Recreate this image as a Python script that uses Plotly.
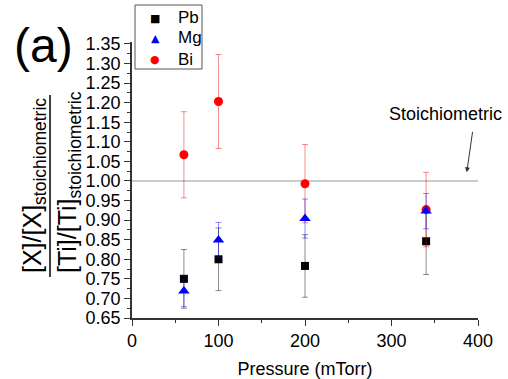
import plotly.graph_objects as go

pressure = [60, 100, 200, 340]
pb = [0.750, 0.800, 0.783, 0.846]
pb_err = [0.075, 0.080, 0.080, 0.085]
mg = [0.719, 0.849, 0.904, 0.923]
mg_err = [0.040, 0.045, 0.050, 0.045]
bi = [1.067, 1.203, 0.993, 0.927]
bi_err = [0.110, 0.120, 0.100, 0.095]

series_names = ["Pb", "Mg", "Bi"]
series_colors = ["black", "blue", "red"]
series_glyphs = ["■", "▲", "●"]

FONT = "Liberation Sans, Arial, sans-serif"

fig = go.Figure()
fig.add_trace(go.Scatter(
    x=pressure, y=pb, mode="markers", name="Pb",
    marker=dict(symbol="square", size=8, color="black"),
    error_y=dict(type="data", array=pb_err, color="rgba(0,0,0,0.45)", thickness=1, width=3)))
fig.add_trace(go.Scatter(
    x=pressure, y=bi, mode="markers", name="Bi",
    marker=dict(symbol="circle", size=9, color="red"),
    error_y=dict(type="data", array=bi_err, color="rgba(230,0,0,0.45)", thickness=1, width=3)))
fig.add_trace(go.Scatter(
    x=pressure, y=mg, mode="markers", name="Mg",
    marker=dict(symbol="triangle-up", size=10, color="blue"),
    error_y=dict(type="data", array=mg_err, color="rgba(0,0,255,0.45)", thickness=1, width=3)))

fig.add_shape(type="line", xref="x", yref="y", x0=0, x1=400, y0=1.0, y1=1.0,
              line=dict(color="#999999", width=1), layer="below")

L, R, T, B, W, H = 132, 30, 42, 61, 508, 379
pw, ph = W - L - R, H - T - B
px = lambda x: (x - L) / pw
py = lambda y: (H - B - y) / ph

# Legend (drawn manually to match compact spacing)
fig.add_shape(type="rect", xref="paper", yref="paper", x0=px(135), x1=px(202), y0=py(5), y1=py(69),
              line=dict(color="#555555", width=1), fillcolor="rgba(0,0,0,0)")
for i, (nm, col, gl) in enumerate(zip(series_names, series_colors, series_glyphs)):
    yy = 17 + 21 * i
    fig.add_annotation(xref="paper", yref="paper", x=px(155), y=py(yy + 1), text=gl, showarrow=False,
                       xanchor="center", yanchor="middle", font=dict(family="DejaVu Sans", size=11, color=col))
    fig.add_annotation(xref="paper", yref="paper", x=px(176), y=py(yy), text=nm, showarrow=False,
                       xanchor="left", yanchor="middle", font=dict(family=FONT, size=17, color="black"))

fig.add_annotation(xref="paper", yref="paper", x=px(34), y=py(185), textangle=-90,
                   text="[X]/[X]<sub>stoichiometric</sub>", showarrow=False,
                   xanchor="center", yanchor="middle", font=dict(family=FONT, size=25, color="black"))
fig.add_annotation(xref="paper", yref="paper", x=px(69), y=py(182), textangle=-90,
                   text="[Ti]/[Ti]<sub>stoichiometric</sub>", showarrow=False,
                   xanchor="center", yanchor="middle", font=dict(family=FONT, size=25, color="black"))
fig.add_shape(type="line", xref="paper", yref="paper", x0=px(50), x1=px(50), y0=py(95), y1=py(277),
              line=dict(color="black", width=1.5))

fig.add_annotation(xref="paper", yref="paper", x=px(43), y=py(46), text="(a)", showarrow=False,
                   xanchor="center", yanchor="middle", font=dict(family=FONT, size=48, color="black"))

fig.add_annotation(xref="x", yref="y", x=362, y=1.17, text="Stoichiometric", showarrow=False,
                   xanchor="center", yanchor="middle", font=dict(family=FONT, size=18, color="black"))
fig.add_annotation(xref="x", yref="y", x=387, y=1.022, text="", showarrow=True,
                   ax=6, ay=-42, arrowhead=2, arrowsize=1, arrowwidth=1, arrowcolor="#333333")

fig.update_layout(
    width=W, height=H, margin=dict(l=L, r=R, t=T, b=B, autoexpand=False),
    paper_bgcolor="white", plot_bgcolor="white",
    font=dict(family=FONT, size=18, color="black"),
    showlegend=False,
    xaxis=dict(range=[0, 400], tickvals=[0, 100, 200, 300, 400], showgrid=False, zeroline=False,
               automargin=False,
               showline=True, linecolor="#333333", linewidth=1.5, ticks="outside", ticklen=6,
               tickcolor="#333333", tickfont=dict(size=18),
               minor=dict(tickvals=[50, 150, 250, 350], ticks="outside", ticklen=3, tickcolor="#333333"),
               title=dict(text="Pressure (mTorr)", font=dict(size=18), standoff=12)),
    yaxis=dict(range=[0.65, 1.355], tickvals=[0.65 + 0.05 * i for i in range(15)],
               ticktext=["%.2f" % (0.65 + 0.05 * i) for i in range(15)],
               automargin=False,
               showgrid=False, zeroline=False, showline=True, linecolor="#333333", linewidth=1.5,
               ticks="outside", ticklen=6, tickcolor="#333333", tickfont=dict(size=18),
               minor=dict(tickvals=[0.675 + 0.05 * i for i in range(14)], ticks="outside", ticklen=3,
                          tickcolor="#333333")),
)

fig.write_html("out.html")
